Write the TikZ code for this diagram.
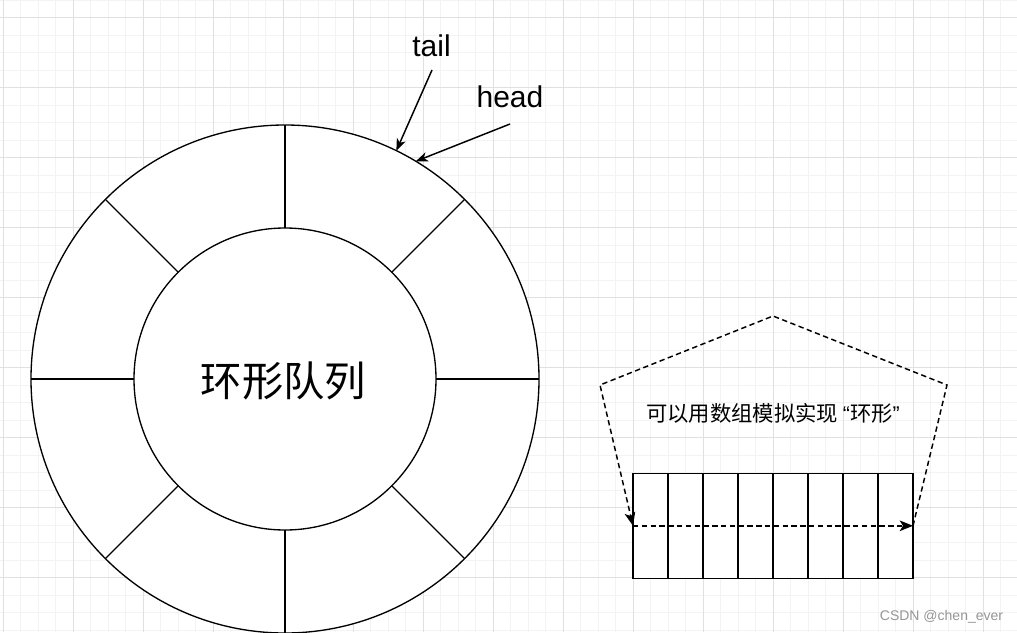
\documentclass[tikz,border=0pt]{standalone}
\usepackage{fontspec}
\setmainfont{Liberation Sans}
\newfontfamily\cjk{Noto Sans CJK SC}
\usetikzlibrary{arrows.meta}
\definecolor{gridminor}{RGB}{243,243,243}
\definecolor{gridmajor}{RGB}{224,224,224}
\definecolor{wmgray}{RGB}{150,150,150}
\begin{document}
\begin{tikzpicture}[x=0.75pt,y=-0.75pt,
  ringline/.style={line width=1pt, draw=black},
  ringcircle/.style={circle, ringline, fill=white, inner sep=0pt, outer sep=0pt},
  cell/.style={draw, line width=1.2pt, fill=white, minimum width=26.25pt, minimum height=78.75pt, inner sep=0pt, outer sep=0pt},
  ptr/.style={line width=1.1pt, -{Stealth[length=9pt,width=7pt,inset=2.5pt]}},
  dashline/.style={line width=1.1pt, dash pattern=on 4pt off 2.6pt, -{Stealth[length=10pt,width=8pt,inset=2.5pt]}},
  lbl/.style={font=\fontsize{22.5}{26}\selectfont, inner sep=0pt, anchor=base},
  gridmin/.style={draw=gridminor, line width=0.75pt},
  gridmaj/.style={draw=gridmajor, line width=0.75pt},
]
\useasboundingbox (0,0) rectangle (1017,632);
\fill[white] (0,0) rectangle (1017,632);
\begin{scope}
\clip (0,0) rectangle (1017,632);
\foreach \i in {0,...,58} \draw[gridmin] ({3+17.5*\i},0) -- ({3+17.5*\i},632);
\foreach \j in {0,...,36} \draw[gridmin] (0,{17.5*\j}) -- (1017,{17.5*\j});
\foreach \i in {0,...,14} \draw[gridmaj] ({3+70*\i},0) -- ({3+70*\i},632);
\foreach \j in {0,...,9} \draw[gridmaj] (0,{17.5+70*\j}) -- (1017,{17.5+70*\j});
\end{scope}

% ring
\node[ringcircle, minimum size=381pt] (outer) at (285,379) {};
\node[ringcircle, minimum size=226.5pt] (inner) at (285,379) {};
\foreach \a in {0,45,...,315} \draw[ringline] (outer.\a) -- (inner.\a);
\node[font=\cjk\fontsize{31}{35}\selectfont, inner sep=0pt] (title) at (283.5,381) {环形队列};

% pointers
\node[lbl] (tail) at (431.5,56) {tail};
\node[lbl] (head) at (510,107) {head};
\coordinate (tailfrom) at (432,70);
\coordinate (headfrom) at (510,124);
\draw[ptr] (tailfrom) -- (outer.64);
\draw[ptr] (headfrom) -- (outer.59);

% array
\foreach \k in {0,...,7} \node[cell] (c\k) at ({650.5+35*\k},525.8) {};
\coordinate (p1) at (600,385);
\coordinate (p2) at (773,316);
\coordinate (p3) at (947,385);
\draw[dashline] (c0.west) -- (c7.east);
\draw[dashline] (c7.east) -- (p3) -- (p2) -- (p1) -- (c0.west);
\node[font=\cjk\fontsize{16}{19}\selectfont, inner sep=0pt] (note) at (773,413) {可以用数组模拟实现 {\rmfamily “}环形{\rmfamily ”}};

% watermark
\node[anchor=base, text=wmgray, font=\fontsize{10.5}{12}\selectfont, inner sep=0pt] (wm) at (941.5,620.5) {CSDN @chen\_ever};
\end{tikzpicture}
\end{document}
